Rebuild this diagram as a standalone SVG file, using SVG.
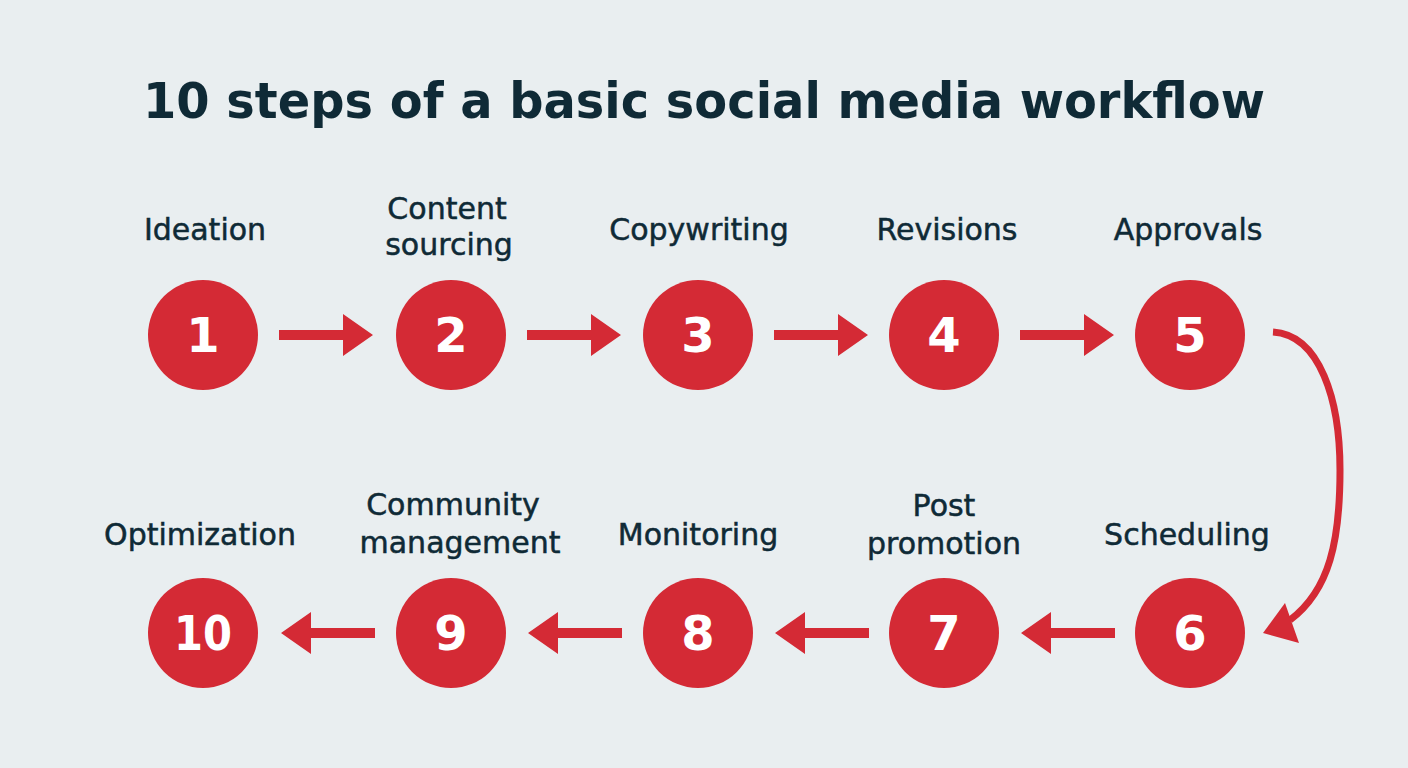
<svg xmlns="http://www.w3.org/2000/svg" width="1408" height="768" viewBox="0 0 1408 768">
<defs>
<style>
.title{font-family:"DejaVu Sans",sans-serif;font-weight:bold;font-size:49px;fill:#0f2a36;text-anchor:middle}
.lbl{font-family:"DejaVu Sans",sans-serif;font-size:30px;fill:#0f2a36;stroke:#0f2a36;stroke-width:0.5;text-anchor:middle}
.num{font-family:"DejaVu Sans",sans-serif;font-weight:bold;font-size:48px;fill:#ffffff;text-anchor:middle}
.c{fill:#d42a35}
.ar{fill:#d42a35}
</style>
</defs>
<rect width="1408" height="768" fill="#e9eef0"/>
<text class="title" x="704" y="118" textLength="1122" lengthAdjust="spacingAndGlyphs">10 steps of a basic social media workflow</text>

<g id="node1"><text class="lbl" x="205" y="240">Ideation</text><circle class="c" cx="203" cy="335" r="55"/><text class="num" x="203" y="352">1</text></g>
<g id="node2"><text class="lbl" x="447" y="219">Content</text><text class="lbl" x="449" y="255">sourcing</text><circle class="c" cx="451" cy="335" r="55"/><text class="num" x="451" y="352">2</text></g>
<g id="node3"><text class="lbl" x="699" y="240">Copywriting</text><circle class="c" cx="698" cy="335" r="55"/><text class="num" x="698" y="352">3</text></g>
<g id="node4"><text class="lbl" x="947" y="240">Revisions</text><circle class="c" cx="944" cy="335" r="55"/><text class="num" x="944" y="352">4</text></g>
<g id="node5"><text class="lbl" x="1188" y="240">Approvals</text><circle class="c" cx="1190" cy="335" r="55"/><text class="num" x="1190" y="352">5</text></g>
<g id="node6"><text class="lbl" x="1187" y="545">Scheduling</text><circle class="c" cx="1190" cy="633" r="55"/><text class="num" x="1190" y="650">6</text></g>
<g id="node7"><text class="lbl" x="944" y="516">Post</text><text class="lbl" x="944" y="554">promotion</text><circle class="c" cx="944" cy="633" r="55"/><text class="num" x="944" y="650">7</text></g>
<g id="node8"><text class="lbl" x="698" y="545">Monitoring</text><circle class="c" cx="698" cy="633" r="55"/><text class="num" x="698" y="650">8</text></g>
<g id="node9"><text class="lbl" x="453" y="515">Community</text><text class="lbl" x="460" y="553">management</text><circle class="c" cx="451" cy="633" r="55"/><text class="num" x="451" y="650">9</text></g>
<g id="node10"><text class="lbl" x="200" y="545">Optimization</text><circle class="c" cx="203" cy="633" r="55"/><text class="num" x="203" y="650" textLength="58" lengthAdjust="spacingAndGlyphs">10</text></g>

<g id="connectors">
<path class="ar" d="M279,330 H343 V314 L373,335 L343,356 V340 H279 Z"/>
<path class="ar" d="M527,330 H591 V314 L621,335 L591,356 V340 H527 Z"/>
<path class="ar" d="M774,330 H838 V314 L868,335 L838,356 V340 H774 Z"/>
<path class="ar" d="M1020,330 H1084 V314 L1114,335 L1084,356 V340 H1020 Z"/>
<path class="ar" d="M1115,628 H1051 V612 L1021,633 L1051,654 V638 H1115 Z"/>
<path class="ar" d="M869,628 H805 V612 L775,633 L805,654 V638 H869 Z"/>
<path class="ar" d="M622,628 H558 V612 L528,633 L558,654 V638 H622 Z"/>
<path class="ar" d="M375,628 H311 V612 L281,633 L311,654 V638 H375 Z"/>
<path d="M1273,332 C1320,335 1340,400 1340,470 C1340,540 1330,590 1290,620" fill="none" stroke="#d42a35" stroke-width="7"/>
<path class="ar" d="M1263,633 L1285,603 L1299,643 Z"/>
</g>
</svg>
